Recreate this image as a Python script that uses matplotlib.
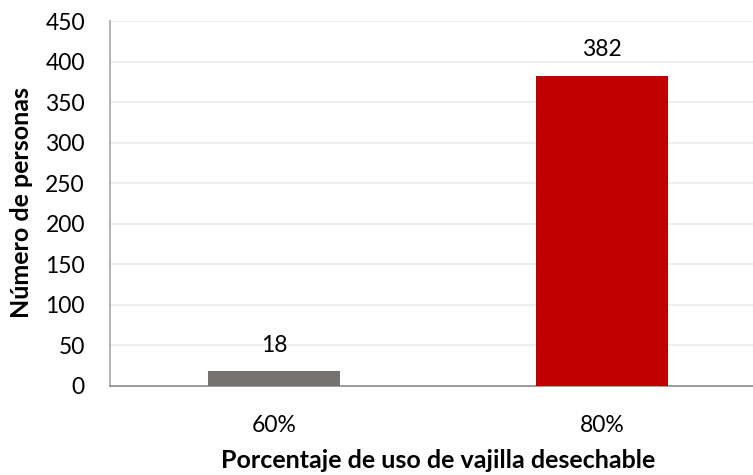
import matplotlib
matplotlib.use("Agg")
import matplotlib.pyplot as plt

categories = ["60%", "80%"]
values = [18, 382]
colors = ["#767171", "#C00000"]
yticks = [0, 50, 100, 150, 200, 250, 300, 350, 400, 450]

plt.rcParams['font.family'] = ['Lato', 'DejaVu Sans']

fig = plt.figure(figsize=(7.53, 4.75), dpi=100)
W, H = 753, 475
ax = fig.add_axes([110 / W, 1 - 386 / H, (753 - 110) / W, (386 - 21) / H])

x = list(range(len(categories)))
bars = ax.bar(x, values, width=0.402, color=colors, zorder=3)
for xi, v in zip(x, values):
    ax.annotate(str(v), (xi, v), xytext=(0, 19), textcoords='offset points',
                ha='center', va='center', fontsize=16.5, color='#000000')

ax.set_xlim(-0.5, 1.46)
ax.set_ylim(0, 450)
ax.set_yticks(yticks)
ax.set_yticklabels([str(t) for t in yticks])
ax.set_xticks(x)
ax.set_xticklabels(categories)
ax.tick_params(axis='y', length=0, pad=18, labelsize=16.5, labelcolor='#000000')
ax.tick_params(axis='x', length=0, pad=21, labelsize=16.5, labelcolor='#000000')

ax.grid(axis='y', color='#EBEBEB', linewidth=1.2, zorder=0)
for s in ['top', 'right']:
    ax.spines[s].set_visible(False)
ax.spines['left'].set_color('#A6A6A6')
ax.spines['left'].set_linewidth(1.2)
ax.spines['bottom'].set_color('#8C8C8C')
ax.spines['bottom'].set_linewidth(1.2)

fig.text(438 / W, 1 - 468 / H, "Porcentaje de uso de vajilla desechable", ha='center', va='baseline',
         fontsize=18, fontweight='bold')
fig.text(22 / W, 1 - 203 / H, "Número de personas", ha='center', va='center', rotation=90,
         fontsize=18, fontweight='bold')

fig.savefig("out.png", dpi=100)
